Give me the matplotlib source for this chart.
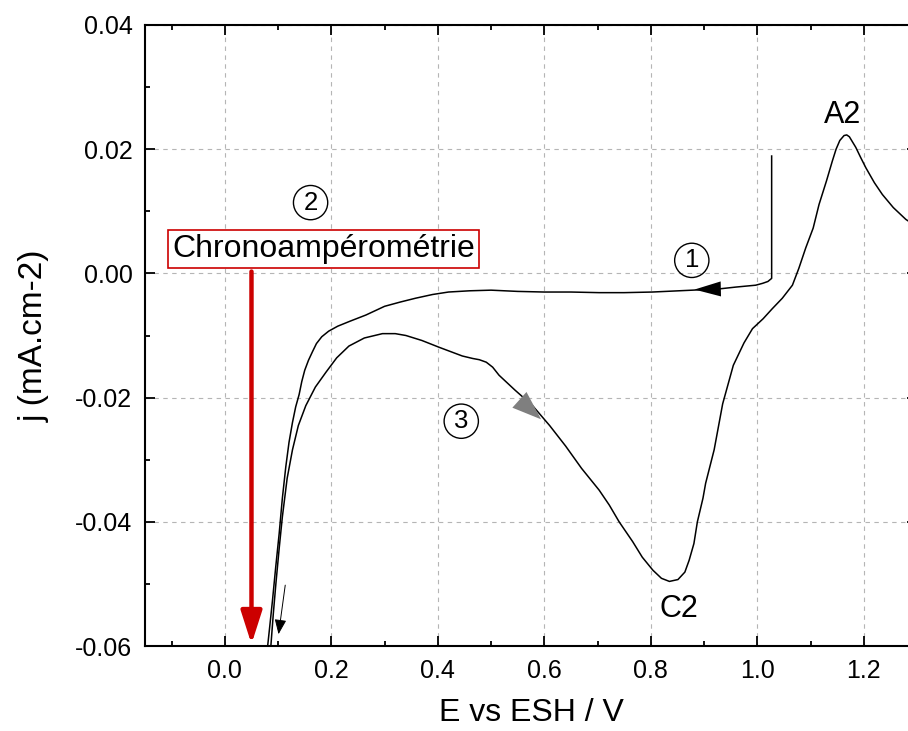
import matplotlib
matplotlib.use("Agg")
import matplotlib.pyplot as plt
from matplotlib.ticker import MultipleLocator, FormatStrFormatter

plt.rcParams['font.family'] = ['Liberation Sans', 'DejaVu Sans']
plt.rcParams['axes.unicode_minus'] = False

# ---- data ----
# scan 1: swept negative from the end of the first step
E_scan1 = [1.027, 1.027, 1.020, 1.010, 0.997, 0.960, 0.928, 0.878, 0.803, 0.750,
           0.703, 0.650, 0.600, 0.550, 0.500, 0.460, 0.420, 0.390, 0.358, 0.330,
           0.300, 0.265, 0.235, 0.212, 0.195, 0.182, 0.172, 0.1646, 0.157, 0.150,
           0.1445, 0.1395, 0.133, 0.127, 0.1205, 0.1145, 0.108, 0.102, 0.0955,
           0.0894, 0.0845, 0.080]
j_scan1 = [0.0189, -0.0008, -0.0013, -0.0016, -0.0019, -0.0022, -0.0025, -0.0027,
           -0.0030, -0.0031, -0.0031, -0.0030, -0.0030, -0.0029, -0.0027, -0.0028,
           -0.0030, -0.0034, -0.0040, -0.0046, -0.0053, -0.0067, -0.0077, -0.0085,
           -0.0093, -0.0102, -0.0113, -0.0126, -0.0140, -0.0156, -0.0174, -0.0195,
           -0.0215, -0.0240, -0.0272, -0.0311, -0.0362, -0.0419, -0.0473, -0.0527,
           -0.0567, -0.0603]

# scan 3: swept positive after the chronoamperometry step
E_scan3 = [0.0864, 0.0910, 0.0958, 0.102, 0.108, 0.117, 0.127, 0.138, 0.152, 0.170,
           0.190, 0.210, 0.233, 0.262, 0.296, 0.320, 0.340, 0.370, 0.4025, 0.446,
           0.4655, 0.478, 0.491, 0.503, 0.515, 0.545, 0.578, 0.610, 0.640, 0.670,
           0.703, 0.722, 0.7405, 0.766, 0.784, 0.804, 0.820, 0.835, 0.851, 0.864,
           0.872, 0.881, 0.8875, 0.898, 0.903, 0.919, 0.935, 0.955, 0.975, 0.991,
           1.011, 1.028, 1.047, 1.066, 1.078, 1.091, 1.105, 1.116, 1.130, 1.141,
           1.148, 1.155, 1.163, 1.168, 1.173, 1.185, 1.194, 1.204, 1.220, 1.235,
           1.2555, 1.279, 1.300]
j_scan3 = [-0.0600, -0.0548, -0.0500, -0.0443, -0.0392, -0.0330, -0.0284, -0.0245,
           -0.0213, -0.0183, -0.0159, -0.0136, -0.0117, -0.0104, -0.0097, -0.0097,
           -0.0100, -0.0108, -0.0119, -0.0133, -0.0137, -0.0139, -0.0143, -0.0151,
           -0.0164, -0.0188, -0.0213, -0.0245, -0.0278, -0.0314, -0.0349, -0.0373,
           -0.0400, -0.0432, -0.0457, -0.0478, -0.0491, -0.0496, -0.0493, -0.0481,
           -0.0462, -0.0435, -0.0400, -0.0362, -0.0338, -0.0284, -0.0210, -0.0148,
           -0.0112, -0.0089, -0.0073, -0.0057, -0.0040, -0.0019, 0.0008, 0.0041,
           0.0073, 0.0111, 0.0149, 0.0181, 0.0200, 0.0214, 0.0222, 0.0223, 0.0220,
           0.0203, 0.0187, 0.0170, 0.0146, 0.0127, 0.0106, 0.0087, 0.0075]

x_ticks = [0.0, 0.2, 0.4, 0.6, 0.8, 1.0, 1.2]
y_ticks = [-0.06, -0.04, -0.02, 0.00, 0.02, 0.04]
x_label = "E vs ESH / V"
y_label = "j (mA.cm-2)"
box_text = "Chronoampérométrie"
E_chrono = 0.05

# ---- figure ----
fig = plt.figure(figsize=(9.08, 7.31), dpi=100)
ax = fig.add_axes([145 / 908, 1 - 646 / 731, (917 - 145) / 908, (646 - 25) / 731])

ax.set_xlim(-0.15, 1.30)
ax.set_ylim(-0.06, 0.04)
ax.set_xticks(x_ticks)
ax.set_yticks(y_ticks)
ax.xaxis.set_minor_locator(MultipleLocator(0.1))
ax.yaxis.set_minor_locator(MultipleLocator(0.01))
ax.xaxis.set_major_formatter(FormatStrFormatter('%.1f'))
ax.yaxis.set_major_formatter(FormatStrFormatter('%.2f'))

ax.tick_params(which='both', direction='in', top=True, right=True,
               labelsize=18, width=1.3, pad=9)
ax.tick_params(which='major', length=7.5)
ax.tick_params(which='minor', length=3.5)
for s in ax.spines.values():
    s.set_linewidth(1.5)

ax.grid(which='major', linestyle=(0, (4, 4)), color='#b5b5b5', linewidth=0.8)
ax.set_axisbelow(True)

ax.set_xlabel(x_label, fontsize=23, labelpad=11)
ax.set_ylabel(y_label, fontsize=24, labelpad=18)

ax.plot(E_scan1, j_scan1, color='black', lw=1.1, zorder=3)
ax.plot(E_scan3, j_scan3, color='black', lw=1.1, zorder=3)

# direction arrows
ax.annotate('', xy=(0.882, -0.0026), xytext=(0.932, -0.0025),
            arrowprops=dict(arrowstyle='-|>,head_length=0.95,head_width=0.27',
                            mutation_scale=20, color='black', lw=0,
                            shrinkA=0, shrinkB=0), zorder=4)
ax.annotate('', xy=(0.594, -0.0235), xytext=(0.546, -0.0198),
            arrowprops=dict(arrowstyle='-|>,head_length=1.05,head_width=0.38',
                            mutation_scale=20, color='#7f7f7f', lw=0,
                            shrinkA=0, shrinkB=0), zorder=4)
ax.annotate('', xy=(0.1008, -0.0581), xytext=(0.1134, -0.0502),
            arrowprops=dict(arrowstyle='-|>,head_length=0.45,head_width=0.18',
                            mutation_scale=20, color='black', lw=0.7,
                            shrinkA=0, shrinkB=0), zorder=4)

# chronoamperometry red arrow
ax.annotate('', xy=(E_chrono, -0.0597), xytext=(E_chrono, 0.0003),
            arrowprops=dict(arrowstyle='-|>,head_length=1.0,head_width=0.32',
                            mutation_scale=20, color='#cc0000', lw=3.2,
                            shrinkA=0, shrinkB=0), zorder=5)

ax.text(0.185, 0.0039, box_text, fontsize=23, ha='center', va='center',
        bbox=dict(boxstyle='square,pad=0.12', facecolor='white',
                  edgecolor='#cc0000', linewidth=1.2), zorder=6)

# circled step numbers
for lbl, ex, jy in [('1', 0.877, 0.0021), ('2', 0.161, 0.0114), ('3', 0.444, -0.0238)]:
    ax.text(ex, jy, lbl, fontsize=18.5, ha='center', va='center',
            bbox=dict(boxstyle='circle,pad=0.2', facecolor='none',
                      edgecolor='black', linewidth=1.0), zorder=6)

ax.text(1.160, 0.0242, 'A2', fontsize=22, ha='center', va='baseline')
ax.text(0.853, -0.0554, 'C2', fontsize=22, ha='center', va='baseline')

fig.savefig('out.png', dpi=100)
